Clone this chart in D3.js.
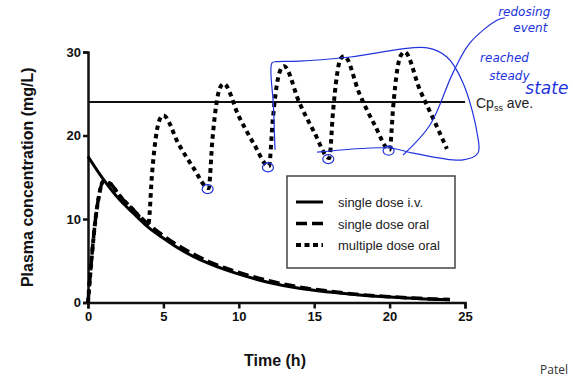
<!DOCTYPE html>
<html>
<head>
<meta charset="utf-8">
<script src="https://cdn.jsdelivr.net/npm/d3@7"></script>
<style>
  body { margin: 0; background: #fff; }
  svg { font-family: "Liberation Sans", Arial, sans-serif; }
</style>
</head>
<body>
<svg id="chart" width="573" height="381"></svg>
<script>
// time (h) and plasma concentration (mg/L)
const ivTime = [0, 1, 2, 3, 4, 5, 6, 7, 8, 9, 10, 12, 14, 16, 18, 20, 22, 24];
const ivConc = [17.5, 14.8, 12.5, 10.7, 9.0, 7.7, 6.5, 5.5, 4.7, 4.0, 3.4, 2.4, 1.7, 1.25, 0.9, 0.65, 0.45, 0.33];

const oralTime = [0, 0.25, 0.5, 0.75, 1, 1.5, 2, 3, 4, 5, 6, 7, 8, 9, 10, 12, 14, 16, 18, 20, 22, 24];
const oralConc = [0, 5.5, 10, 13, 14.5, 14.2, 13.0, 11.1, 9.4, 8.0, 6.8, 5.8, 4.9, 4.2, 3.6, 2.6, 1.85, 1.35, 0.95, 0.7, 0.5, 0.35];

const multiTime = [0, 0.25, 0.5, 0.75, 1, 1.5, 2, 3, 4,
  4.25, 4.5, 4.75, 5, 6, 7, 8,
  8.25, 8.5, 8.75, 9, 10, 11, 12,
  12.25, 12.5, 12.75, 13, 14, 15, 16,
  16.25, 16.5, 16.75, 17, 18, 19, 20,
  20.25, 20.5, 20.75, 21, 22, 23, 23.8];
const multiConc = [0, 5.5, 10, 13, 14.5, 14.2, 13.0, 11.1, 9.4,
  15.5, 19.8, 21.9, 22.4, 19.0, 16.1, 13.7,
  19.5, 23.6, 25.7, 26.2, 22.3, 19.0, 16.3,
  21.8, 25.8, 27.8, 28.3, 24.0, 20.4, 17.3,
  22.9, 27.1, 29.2, 29.5, 25.0, 21.3, 18.3,
  23.7, 27.8, 29.6, 30.0, 25.5, 21.6, 18.4];

const troughTime = [8, 12, 16, 20];
const troughConc = [13.7, 16.3, 17.3, 18.3];

const cpssAve = 24;
const xTicks = [0, 5, 10, 15, 20, 25];
const yTicks = [0, 10, 20, 30];
const legendLabels = ["single dose i.v.", "single dose oral", "multiple dose oral"];

// hand-drawn notes, in (time, conc) units
const loopPts = [[12.4, 18.3], [12.3, 23.5], [12.2, 28.7], [12.5, 28.85], [14.06, 28.9], [17.4, 29.4], [22.5, 30.5], [23.8, 29.4],
  [24.87, 26.3], [25.8, 20.3], [25.86, 17.9], [24.87, 17.07], [21.55, 17.9], [20.03, 18.5], [15.19, 18.0]];
const hookPts = [[20.89, 17.66], [22.68, 21.26], [24.2, 27.5], [25.33, 31.1], [27.12, 33.8], [27.65, 34.1]];
const noteText = ["redosing", "event", "reached", "steady", "state"];
const notePos = [[27.2, 34.3], [28.2, 32.4], [26.0, 28.8], [26.6, 26.6], [29.0, 25.0]];

const svg = d3.select("#chart");
const x = d3.scaleLinear().domain([0, 25]).range([88, 465]);
const y = d3.scaleLinear().domain([0, 30]).range([302.5, 52]);

//軸
const xAxis = svg.append("g").attr("transform", `translate(0,${y(0)})`)
  .call(d3.axisBottom(x).tickValues(xTicks).tickSize(6).tickPadding(3));
const yAxis = svg.append("g").attr("transform", `translate(${x(0)},0)`)
  .call(d3.axisLeft(y).tickValues(yTicks).tickSize(5).tickPadding(2));
[xAxis, yAxis].forEach(g => {
  g.select(".domain").attr("stroke", "#111").attr("stroke-width", 2.5);
  g.selectAll(".tick line").attr("stroke", "#111").attr("stroke-width", 2.5);
  g.selectAll(".tick text").attr("fill", "#111").style("font-size", "13px").style("font-weight", "bold");
});

svg.append("text").attr("x", 275).attr("y", 366).attr("text-anchor", "middle")
  .style("font-size", "16px").style("font-weight", "bold").attr("fill", "#111").text("Time (h)");
svg.append("text").attr("transform", `translate(33,${(y(0) + y(30)) / 2}) rotate(-90)`)
  .attr("text-anchor", "middle").style("font-size", "16px").style("font-weight", "bold")
  .attr("fill", "#111").text("Plasma concentration (mg/L)");

// Cpss ave. line
svg.append("line").attr("x1", x(0)).attr("x2", x(25)).attr("y1", y(cpssAve)).attr("y2", y(cpssAve))
  .attr("stroke", "#111").attr("stroke-width", 2);
const cp = svg.append("text").attr("x", x(25) + 11).attr("y", y(cpssAve) + 6)
  .style("font-size", "14px").attr("fill", "#222");
cp.append("tspan").text("Cp");
cp.append("tspan").attr("dy", 3).style("font-size", "9px").text("ss");
cp.append("tspan").attr("dy", -3).text(" ave.");

//曲線
const line = d3.line().x(d => x(d[0])).y(d => y(d[1])).curve(d3.curveMonotoneX);
const styles = [
  { w: 3, dash: null },
  { w: 3.5, dash: "11,5" },
  { w: 4, dash: "4.5,4" }
];
const series = [
  d3.zip(ivTime, ivConc),
  d3.zip(oralTime, oralConc),
  d3.zip(multiTime, multiConc)
];
series.forEach((s, i) => {
  svg.append("path").attr("d", line(s)).attr("fill", "none").attr("stroke", "#000")
    .attr("stroke-width", styles[i].w).attr("stroke-dasharray", styles[i].dash);
});

//圖例
const lg = svg.append("g");
lg.append("rect").attr("x", 287).attr("y", 176).attr("width", 168).attr("height", 92)
  .attr("fill", "#fff").attr("stroke", "#444").attr("stroke-width", 1.5);
legendLabels.forEach((lab, i) => {
  const yy = 202 + i * 21.5;
  lg.append("line").attr("x1", 296).attr("x2", 323).attr("y1", yy).attr("y2", yy)
    .attr("stroke", "#000").attr("stroke-width", styles[i].w)
    .attr("stroke-dasharray", i === 1 ? "11,5" : i === 2 ? "5,3.5" : null);
  lg.append("text").attr("x", 338).attr("y", yy + 5).style("font-size", "13px")
    .attr("fill", "#222").text(lab);
});

// blue notes
const blue = "#2233dd";
const free = d3.line().x(d => x(d[0])).y(d => y(d[1])).curve(d3.curveCatmullRom.alpha(0.5));
svg.append("path").attr("d", free(loopPts)).attr("fill", "none").attr("stroke", blue).attr("stroke-width", 1.2);
svg.append("path").attr("d", free(hookPts)).attr("fill", "none").attr("stroke", blue).attr("stroke-width", 1.2);
svg.selectAll("ellipse.tr").data(d3.zip(troughTime, troughConc)).enter().append("ellipse")
  .attr("cx", d => x(d[0]) - 1).attr("cy", d => y(d[1]) + 1).attr("rx", 5.5).attr("ry", 4.5)
  .attr("fill", "none").attr("stroke", blue).attr("stroke-width", 1.2);
noteText.forEach((t, i) => {
  svg.append("text").attr("x", x(notePos[i][0])).attr("y", y(notePos[i][1]))
    .style("font-size", i === 4 ? "17px" : "12px").style("font-style", "italic")
    .style("font-family", "DejaVu Sans").attr("fill", blue).text(t);
});

svg.append("text").attr("x", 540).attr("y", 374).style("font-size", "12px")
  .style("font-family", "Open Sans").attr("fill", "#333").text("Patel");
</script>
</body>
</html>
